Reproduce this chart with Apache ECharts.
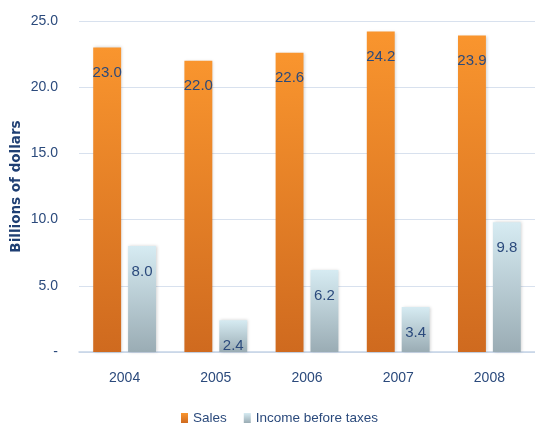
<!DOCTYPE html>
<html>
<head>
<meta charset="utf-8">
<script src="https://cdn.jsdelivr.net/npm/echarts@6/dist/echarts.min.js"></script>
<style>
  html, body { margin: 0; padding: 0; background: #fff; }
  #chart { width: 535px; height: 425px; }
</style>
</head>
<body>
<div id="chart"></div>
<script>
// Yearly figures, billions of dollars
const years = ['2004', '2005', '2006', '2007', '2008'];
const sales = [23.0, 22.0, 22.6, 24.2, 23.9];
const incomeBeforeTaxes = [8.0, 2.4, 6.2, 3.4, 9.8];
const yTicks = [0, 5, 10, 15, 20, 25];

const FONT = '"Liberation Sans", Arial, sans-serif';
const TEXT = '#2b4a7c';

const orangeFill = new echarts.graphic.LinearGradient(0, 0, 0, 1, [
  { offset: 0, color: '#f9952e' },
  { offset: 1, color: '#cf6a1f' }
]);
const blueFill = new echarts.graphic.LinearGradient(0, 0, 0, 1, [
  { offset: 0, color: '#d6ebf2' },
  { offset: 1, color: '#9aacb4' }
]);

const valueLabel = {
  show: true,
  position: 'insideTop',
  distance: 18,
  color: TEXT,
  fontFamily: FONT,
  fontSize: 15,
  formatter: p => p.value.toFixed(1)
};

const chart = echarts.init(document.getElementById('chart'), null, { renderer: 'canvas' });
chart.setOption({
  animation: false,
  grid: { left: 79, right: 0, top: 21, bottom: 73, outerBoundsMode: 'none', containLabel: false },
  legend: {
    top: 406,
    left: 176,
    itemWidth: 7,
    itemHeight: 10,
    itemGap: 17,
    icon: 'rect',
    textStyle: { color: TEXT, fontFamily: FONT, fontSize: 13.5 },
    data: ['Sales', 'Income before taxes']
  },
  xAxis: {
    type: 'category',
    data: years,
    axisLine: { lineStyle: { color: '#c5d3e6', width: 1.5 } },
    axisTick: { show: false },
    axisLabel: { color: TEXT, fontFamily: FONT, fontSize: 14, margin: 19 }
  },
  yAxis: {
    type: 'value',
    min: yTicks[0],
    max: yTicks[yTicks.length - 1],
    interval: 5,
    name: 'Billions of dollars',
    nameLocation: 'middle',
    nameGap: 56,
    nameMoveOverlap: false,
    nameTextStyle: { color: '#1f3f73', fontFamily: '"DejaVu Sans", sans-serif', fontSize: 13.5, fontWeight: 'bold' },
    axisLine: { show: false },
    axisTick: { show: false },
    splitLine: { lineStyle: { color: '#d8e1ee', width: 1 } },
    axisLabel: {
      color: TEXT,
      fontFamily: FONT,
      fontSize: 14,
      margin: 21,
      formatter: v => v === 0 ? '-' : v.toFixed(1)
    }
  },
  series: [
    {
      name: 'Sales',
      type: 'bar',
      data: sales,
      barWidth: '30.6%',
      barGap: '25%',
      itemStyle: {
        color: orangeFill,
        shadowColor: 'rgba(0,0,0,0.18)',
        shadowBlur: 3,
        shadowOffsetX: 1
      },
      label: valueLabel
    },
    {
      name: 'Income before taxes',
      type: 'bar',
      data: incomeBeforeTaxes,
      barWidth: '30.6%',
      itemStyle: {
        color: blueFill,
        shadowColor: 'rgba(0,0,0,0.18)',
        shadowBlur: 3,
        shadowOffsetX: 1
      },
      label: valueLabel
    }
  ]
});
</script>
</body>
</html>
